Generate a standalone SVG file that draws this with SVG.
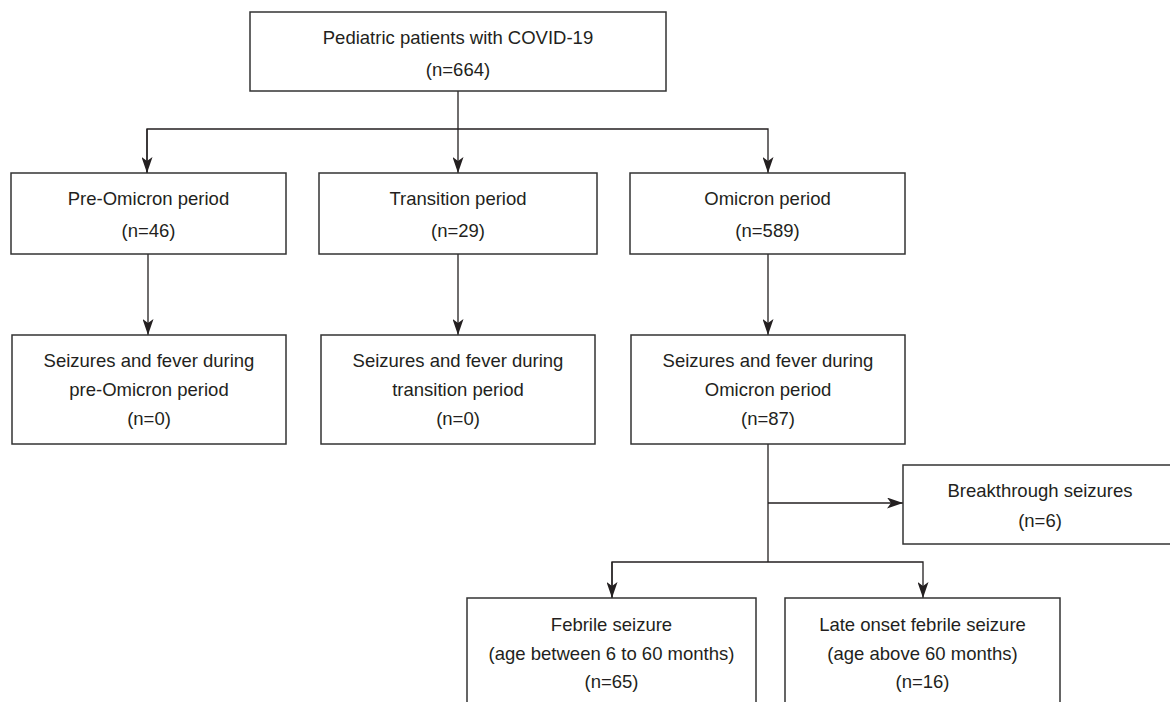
<svg xmlns="http://www.w3.org/2000/svg" width="1170" height="702" viewBox="0 0 1170 702">
<style>
.box{fill:#fff;stroke:#333;stroke-width:1.5}
.t{font-family:"Liberation Sans",Arial,sans-serif;font-size:18.5px;fill:#231f20;text-anchor:middle}
.c{fill:none;stroke:#231f20;stroke-width:1.3}
</style>
<defs>
<marker id="ah" markerUnits="userSpaceOnUse" markerWidth="16" markerHeight="11" refX="16" refY="5.5" orient="auto">
<path d="M0,0 L16,5.5 L0,11 L4,5.5 z" fill="#231f20"/>
</marker>
</defs>
<rect width="1170" height="702" fill="#fff"/>
<g id="connectors">
<line class="c" x1="458" y1="91" x2="458" y2="173" marker-end="url(#ah)"/>
<polyline class="c" points="147,173 147,129 768,129 768,173" marker-end="url(#ah)"/>
<line class="c" x1="147" y1="129" x2="147" y2="173" marker-end="url(#ah)"/>
<line class="c" x1="148" y1="254" x2="148" y2="335" marker-end="url(#ah)"/>
<line class="c" x1="458" y1="254" x2="458" y2="335" marker-end="url(#ah)"/>
<line class="c" x1="768" y1="254" x2="768" y2="335" marker-end="url(#ah)"/>
<line class="c" x1="768" y1="444" x2="768" y2="562"/>
<line class="c" x1="768" y1="503" x2="903" y2="503" marker-end="url(#ah)"/>
<polyline class="c" points="612,598 612,562 923,562 923,598" marker-end="url(#ah)"/>
<line class="c" x1="612" y1="562" x2="612" y2="598" marker-end="url(#ah)"/>
</g>
<g id="n-total">
<rect class="box" x="250" y="12" width="416" height="79"/>
<text class="t" x="458" y="44">Pediatric patients with COVID-19</text>
<text class="t" x="458" y="76">(n=664)</text>
</g>
<g id="n-pre">
<rect class="box" x="11" y="173" width="275" height="81"/>
<text class="t" x="148.5" y="205">Pre-Omicron period</text>
<text class="t" x="148.5" y="237">(n=46)</text>
</g>
<g id="n-transition">
<rect class="box" x="319" y="173" width="278" height="81"/>
<text class="t" x="458" y="205">Transition period</text>
<text class="t" x="458" y="237">(n=29)</text>
</g>
<g id="n-omicron">
<rect class="box" x="630" y="173" width="275" height="81"/>
<text class="t" x="767.5" y="205">Omicron period</text>
<text class="t" x="767.5" y="237">(n=589)</text>
</g>
<g id="n-pre-seiz">
<rect class="box" x="12" y="335" width="274" height="109"/>
<text class="t" x="149" y="367">Seizures and fever during</text>
<text class="t" x="149" y="396">pre-Omicron period</text>
<text class="t" x="149" y="425">(n=0)</text>
</g>
<g id="n-trans-seiz">
<rect class="box" x="321" y="335" width="274" height="109"/>
<text class="t" x="458" y="367">Seizures and fever during</text>
<text class="t" x="458" y="396">transition period</text>
<text class="t" x="458" y="425">(n=0)</text>
</g>
<g id="n-omi-seiz">
<rect class="box" x="631" y="335" width="274" height="109"/>
<text class="t" x="768" y="367">Seizures and fever during</text>
<text class="t" x="768" y="396">Omicron period</text>
<text class="t" x="768" y="425">(n=87)</text>
</g>
<g id="n-breakthrough">
<rect class="box" x="903" y="465" width="275" height="79"/>
<text class="t" x="1040" y="497">Breakthrough seizures</text>
<text class="t" x="1040" y="527">(n=6)</text>
</g>
<g id="n-febrile">
<rect class="box" x="467" y="598" width="289" height="120"/>
<text class="t" x="611.5" y="631">Febrile seizure</text>
<text class="t" x="611.5" y="660">(age between 6 to 60 months)</text>
<text class="t" x="611.5" y="688">(n=65)</text>
</g>
<g id="n-late">
<rect class="box" x="785" y="598" width="275" height="120"/>
<text class="t" x="922.5" y="631">Late onset febrile seizure</text>
<text class="t" x="922.5" y="660">(age above 60 months)</text>
<text class="t" x="922.5" y="688">(n=16)</text>
</g>
</svg>
